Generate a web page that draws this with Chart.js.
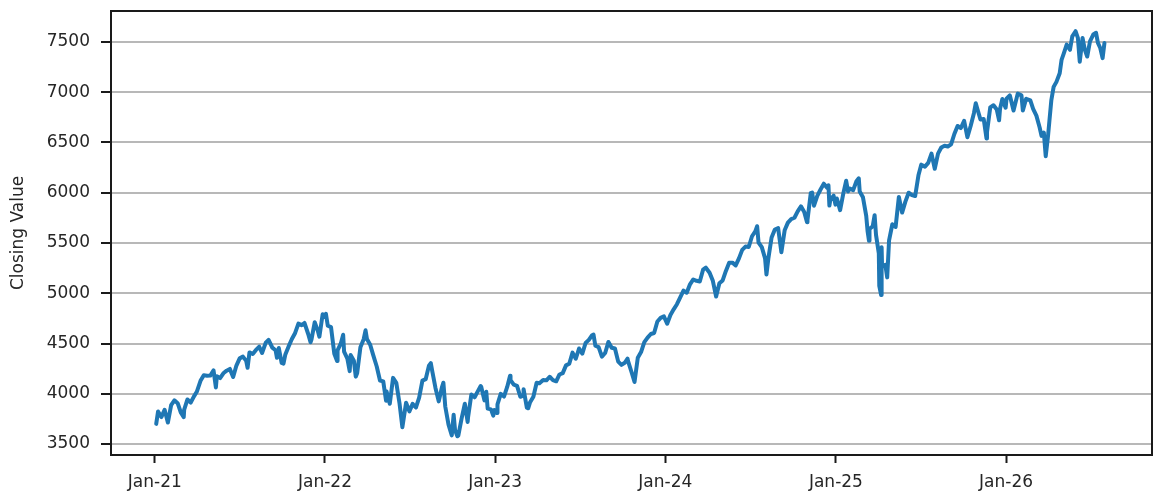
<!DOCTYPE html>
<html>
<head>
<meta charset="utf-8">
<script src="https://cdn.jsdelivr.net/npm/chart.js@4.4.1/dist/chart.umd.min.js"></script>
<style>
html,body{margin:0;padding:0;background:#ffffff;}
#wrap{width:1161px;height:498px;position:relative;}
</style>
</head>
<body>
<div id="wrap"><canvas id="c"></canvas></div>
<script>
const yTickValues = [3500, 4000, 4500, 5000, 5500, 6000, 6500, 7000, 7500];
const xTickDates = ['2021-01-01','2022-01-01','2023-01-01','2024-01-01','2025-01-01','2026-01-01'];
const xTickLabels = ['Jan-21','Jan-22','Jan-23','Jan-24','Jan-25','Jan-26'];
const yAxisTitle = 'Closing Value';

const d2021 = ['2021-01-04','2021-01-08','2021-01-15','2021-01-22','2021-01-29','2021-02-05','2021-02-12','2021-02-19','2021-02-26','2021-03-04','2021-03-05','2021-03-12','2021-03-19','2021-03-26','2021-04-01','2021-04-09','2021-04-16','2021-04-23','2021-04-30','2021-05-07','2021-05-12','2021-05-14','2021-05-21','2021-05-28','2021-06-04','2021-06-11','2021-06-18','2021-06-25','2021-07-02','2021-07-09','2021-07-16','2021-07-19','2021-07-23','2021-07-30','2021-08-06','2021-08-13','2021-08-19','2021-08-27','2021-09-02','2021-09-10','2021-09-17','2021-09-20','2021-09-24','2021-09-30','2021-10-04','2021-10-08','2021-10-15','2021-10-22','2021-10-29','2021-11-05','2021-11-12','2021-11-18','2021-11-26','2021-12-01','2021-12-03','2021-12-10','2021-12-17','2021-12-20','2021-12-27','2021-12-31'];
const v2021 = [3700.65,3824.68,3768.25,3841.47,3714.24,3886.83,3934.83,3906.71,3811.15,3768.47,3841.94,3943.34,3913.10,3974.54,4019.87,4128.80,4185.47,4180.17,4181.17,4232.60,4063.04,4173.85,4155.86,4204.11,4229.89,4247.44,4166.45,4280.70,4352.34,4369.55,4327.16,4258.49,4411.79,4395.26,4436.52,4468.00,4405.80,4509.37,4536.95,4458.58,4432.99,4357.73,4455.48,4307.54,4300.46,4391.34,4471.37,4544.90,4605.38,4697.53,4682.85,4704.54,4594.62,4513.04,4538.43,4712.02,4620.64,4568.02,4791.19,4766.18];

const d2022 = ['2022-01-03','2022-01-07','2022-01-14','2022-01-21','2022-01-27','2022-01-28','2022-02-04','2022-02-09','2022-02-11','2022-02-18','2022-02-23','2022-02-25','2022-03-04','2022-03-08','2022-03-11','2022-03-18','2022-03-25','2022-03-29','2022-04-01','2022-04-08','2022-04-14','2022-04-22','2022-04-29','2022-05-06','2022-05-12','2022-05-13','2022-05-20','2022-05-27','2022-06-03','2022-06-10','2022-06-16','2022-06-24','2022-07-01','2022-07-08','2022-07-15','2022-07-22','2022-07-29','2022-08-05','2022-08-12','2022-08-16','2022-08-19','2022-08-26','2022-09-02','2022-09-09','2022-09-12','2022-09-16','2022-09-23','2022-09-30','2022-10-04','2022-10-07','2022-10-12','2022-10-14','2022-10-21','2022-10-28','2022-11-03','2022-11-04','2022-11-11','2022-11-18','2022-11-25','2022-12-01','2022-12-02','2022-12-09','2022-12-13','2022-12-16','2022-12-23','2022-12-28','2022-12-30'];
const v2022 = [4796.56,4677.03,4662.85,4397.94,4326.51,4431.85,4500.53,4587.18,4418.64,4348.87,4225.50,4384.65,4328.87,4170.70,4204.31,4463.12,4543.06,4631.60,4545.86,4488.28,4392.59,4271.78,4131.93,4123.34,3930.08,4023.89,3901.36,4158.24,4108.54,3900.86,3666.77,3911.74,3825.33,3899.38,3863.16,3961.63,4130.29,4145.19,4280.15,4305.20,4228.48,4057.66,3924.26,4067.36,4110.41,3873.33,3693.23,3585.62,3790.93,3639.66,3577.03,3583.07,3752.75,3901.06,3719.89,3770.55,3992.93,3965.34,4026.12,4076.57,4071.70,3934.38,4019.65,3852.36,3844.82,3783.22,3839.50];

const d2023 = ['2023-01-05','2023-01-06','2023-01-13','2023-01-20','2023-01-27','2023-02-02','2023-02-03','2023-02-10','2023-02-17','2023-02-24','2023-03-02','2023-03-03','2023-03-10','2023-03-13','2023-03-17','2023-03-24','2023-03-31','2023-04-06','2023-04-14','2023-04-21','2023-04-28','2023-05-05','2023-05-12','2023-05-19','2023-05-26','2023-06-02','2023-06-09','2023-06-16','2023-06-23','2023-06-30','2023-07-07','2023-07-14','2023-07-21','2023-07-28','2023-07-31','2023-08-04','2023-08-11','2023-08-18','2023-08-25','2023-09-01','2023-09-08','2023-09-15','2023-09-22','2023-09-29','2023-10-06','2023-10-12','2023-10-13','2023-10-20','2023-10-27','2023-11-03','2023-11-10','2023-11-17','2023-11-24','2023-12-01','2023-12-08','2023-12-15','2023-12-22','2023-12-29'];
const v2023 = [3808.10,3895.08,3999.09,3972.61,4070.56,4179.76,4136.48,4090.46,4079.09,3970.04,3981.35,4045.64,3861.59,3855.76,3916.64,3970.99,4109.31,4105.02,4137.64,4133.52,4169.48,4136.25,4124.08,4191.98,4205.45,4282.37,4298.86,4409.59,4348.33,4450.38,4398.95,4505.42,4536.34,4582.23,4588.96,4478.03,4464.05,4369.71,4405.71,4515.77,4457.49,4450.32,4320.06,4288.05,4308.50,4349.61,4327.78,4224.16,4117.37,4358.34,4415.24,4514.02,4559.34,4594.63,4604.37,4719.19,4754.63,4769.83];

const d2024 = ['2024-01-05','2024-01-12','2024-01-19','2024-01-26','2024-02-02','2024-02-09','2024-02-16','2024-02-23','2024-03-01','2024-03-08','2024-03-15','2024-03-22','2024-03-28','2024-04-05','2024-04-12','2024-04-19','2024-04-26','2024-05-03','2024-05-10','2024-05-17','2024-05-24','2024-05-31','2024-06-07','2024-06-14','2024-06-21','2024-06-28','2024-07-05','2024-07-12','2024-07-16','2024-07-19','2024-07-26','2024-08-02','2024-08-05','2024-08-09','2024-08-16','2024-08-23','2024-08-30','2024-09-06','2024-09-13','2024-09-20','2024-09-27','2024-10-04','2024-10-11','2024-10-18','2024-10-25','2024-10-31','2024-11-01','2024-11-08','2024-11-11','2024-11-15','2024-11-22','2024-11-29','2024-12-06','2024-12-13','2024-12-16','2024-12-18','2024-12-20','2024-12-27','2024-12-31'];
const v2024 = [4697.24,4783.83,4839.81,4890.97,4958.61,5026.61,5005.57,5088.80,5137.08,5123.69,5117.09,5234.18,5254.35,5204.34,5123.41,4967.23,5099.96,5127.79,5222.68,5303.27,5304.72,5277.51,5346.99,5431.60,5464.62,5460.48,5567.19,5615.35,5667.20,5505.00,5459.10,5346.56,5186.33,5344.16,5554.25,5634.61,5648.40,5408.42,5626.02,5702.55,5738.17,5751.07,5815.03,5864.67,5808.12,5705.45,5728.80,5995.54,6001.35,5870.62,5969.34,6032.38,6090.27,6051.09,6074.08,5872.16,5930.85,5970.84,5881.63];

const d2025 = ['2025-01-03','2025-01-10','2025-01-17','2025-01-23','2025-01-27','2025-01-31','2025-02-07','2025-02-14','2025-02-19','2025-02-21','2025-02-28','2025-03-07','2025-03-10','2025-03-13','2025-03-14','2025-03-21','2025-03-25','2025-03-28','2025-04-03','2025-04-04','2025-04-08','2025-04-09','2025-04-10','2025-04-17','2025-04-21','2025-04-25','2025-05-02','2025-05-09','2025-05-16','2025-05-23','2025-05-30','2025-06-06','2025-06-13','2025-06-20','2025-06-27','2025-07-03','2025-07-11','2025-07-18','2025-07-25','2025-08-01','2025-08-08','2025-08-15','2025-08-22','2025-08-29','2025-09-05','2025-09-12','2025-09-19','2025-09-26','2025-10-03','2025-10-10','2025-10-17','2025-10-24','2025-10-28','2025-10-31','2025-11-07','2025-11-14','2025-11-20','2025-11-21','2025-11-28','2025-12-05','2025-12-12','2025-12-17','2025-12-19','2025-12-24','2025-12-31'];
const v2025 = [5942.47,5827.04,5996.66,6118.71,6012.28,6040.53,6025.99,6114.63,6144.15,6013.13,5954.50,5770.20,5614.56,5521.52,5638.94,5667.56,5776.65,5580.94,5396.52,5074.08,4982.77,5456.90,5268.05,5282.70,5158.20,5525.21,5686.67,5659.91,5958.38,5802.82,5911.69,6000.36,5976.97,5967.84,6173.07,6279.35,6259.75,6296.79,6388.64,6238.01,6389.45,6449.80,6466.91,6460.26,6481.50,6584.29,6664.36,6643.70,6715.79,6552.51,6664.01,6791.69,6890.89,6840.20,6728.80,6734.11,6538.76,6602.99,6849.09,6870.40,6827.41,6721.43,6834.50,6932.05,6845.50];

const d2026 = ['2026-01-02','2026-01-09','2026-01-17','2026-01-26','2026-02-03','2026-02-06','2026-02-13','2026-02-22','2026-02-28','2026-03-07','2026-03-14','2026-03-18','2026-03-23','2026-03-27','2026-04-01','2026-04-04','2026-04-08','2026-04-13','2026-04-19','2026-04-26','2026-04-30','2026-05-05','2026-05-11','2026-05-18','2026-05-23','2026-05-30','2026-06-04','2026-06-08','2026-06-14','2026-06-19','2026-06-24','2026-06-30','2026-07-07','2026-07-13','2026-07-17','2026-07-22','2026-07-27','2026-07-31'];
const v2026 = [6935,6969,6818,6986,6969,6818,6935,6918,6835,6767,6649,6566,6599,6364,6566,6717,6918,7053,7103,7188,7322,7389,7473,7422,7556,7607,7540,7304,7540,7422,7355,7506,7574,7591,7490,7440,7339,7490];

const allDates = [].concat(d2021, d2022, d2023, d2024, d2025, d2026);
const allValues = [].concat(v2021, v2022, v2023, v2024, v2025, v2026);
const points = allDates.map((d, i) => ({ x: Date.parse(d), y: allValues[i] }));

const FONT = 'DejaVu Sans';
const TEXT = '#262626';

const framePlugin = {
  id: 'frame',
  afterDraw(chart) {
    const { ctx, chartArea: a } = chart;
    ctx.save();
    ctx.strokeStyle = '#1a1a1a';
    ctx.lineWidth = 2;
    ctx.strokeRect(a.left, a.top, a.right - a.left, a.bottom - a.top);
    ctx.restore();
  }
};

new Chart(document.getElementById('c'), {
  type: 'line',
  data: {
    datasets: [{
      data: points,
      borderColor: '#1f77b4',
      backgroundColor: '#1f77b4',
      borderWidth: 4,
      pointRadius: 0,
      tension: 0,
      borderJoinStyle: 'round',
      borderCapStyle: 'round',
      fill: false
    }]
  },
  options: {
    responsive: true,
    maintainAspectRatio: false,
    animation: false,
    layout: { padding: { top: 11, right: 9, left: 0, bottom: 0 } },
    plugins: { legend: { display: false }, tooltip: { enabled: false } },
    scales: {
      x: {
        type: 'linear',
        min: Date.UTC(2020, 8, 29),
        max: Date.UTC(2026, 10, 10),
        afterBuildTicks: s => { s.ticks = xTickDates.map(d => ({ value: Date.parse(d) })); },
        afterFit: s => { s.height = 43; s.paddingLeft = 0; s.paddingRight = 0; },
        ticks: {
          autoSkip: false, maxRotation: 0, minRotation: 0,
          callback: (v, i) => xTickLabels[i],
          font: { family: FONT, size: 17 }, color: TEXT, padding: 9
        },
        grid: { drawOnChartArea: false, tickLength: 8, tickColor: '#1a1a1a', tickWidth: 2 },
        border: { display: false }
      },
      y: {
        min: 3391,
        max: 7808,
        afterBuildTicks: s => { s.ticks = yTickValues.map(v => ({ value: v })); },
        afterFit: s => { s.width = 111; s.paddingTop = 0; s.paddingBottom = 0; },
        ticks: {
          callback: v => String(v),
          font: { family: FONT, size: 17 }, color: TEXT, padding: 11
        },
        grid: { color: '#b8b8b8', lineWidth: 2, tickLength: 10, tickColor: '#1a1a1a', tickWidth: 2 },
        border: { display: false },
        title: {
          display: true, text: yAxisTitle,
          font: { family: FONT, size: 17 }, color: TEXT,
          padding: { top: 8, bottom: 0 }
        }
      }
    }
  },
  plugins: [framePlugin]
});
</script>
</body>
</html>
